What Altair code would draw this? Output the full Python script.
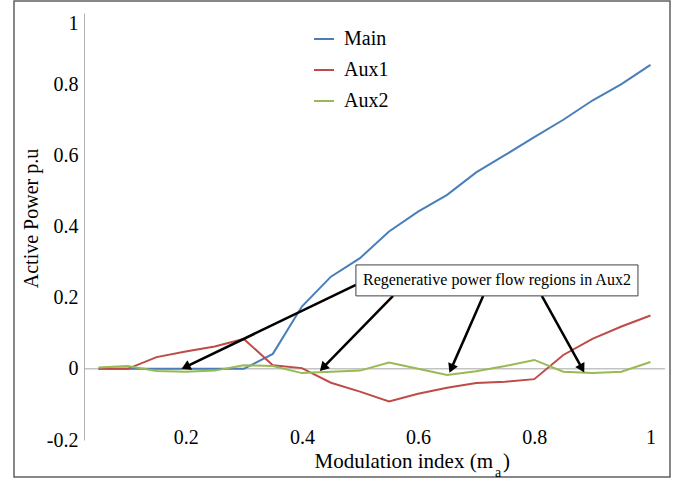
import math
import altair as alt
import pandas as pd

# ---------------- data ----------------
ma = [0.05, 0.10, 0.15, 0.20, 0.25, 0.30, 0.35, 0.40, 0.45, 0.50,
      0.55, 0.60, 0.65, 0.70, 0.75, 0.80, 0.85, 0.90, 0.95, 1.00]
main = [0.0, 0.0, 0.0, 0.0, 0.0, 0.0, 0.042, 0.175, 0.259, 0.311,
        0.386, 0.442, 0.489, 0.552, 0.601, 0.651, 0.700, 0.754, 0.800, 0.854]
aux1 = [0.0, 0.0, 0.033, 0.049, 0.063, 0.084, 0.010, 0.002, -0.039, -0.064,
        -0.092, -0.070, -0.053, -0.040, -0.036, -0.029, 0.039, 0.084, 0.119, 0.150]
aux2 = [0.004, 0.008, -0.006, -0.008, -0.005, 0.010, 0.008, -0.012, -0.008, -0.005,
        0.018, 0.0, -0.017, -0.007, 0.008, 0.025, -0.008, -0.012, -0.008, 0.019]

series_names = ["Main", "Aux1", "Aux2"]
series_colors = ["#4A7EBB", "#BE4B48", "#98B954"]

x_ticks = [0.2, 0.4, 0.6, 0.8, 1.0]
y_ticks = [-0.2, 0, 0.2, 0.4, 0.6, 0.8, 1]

annotation_text = "Regenerative power flow regions in Aux2"
# arrow start (at the box) and tip (on the Aux2 curve), in data units
arrow_start_x = [0.493, 0.557, 0.712, 0.813]
arrow_start_y = [0.236, 0.205, 0.205, 0.205]
arrow_tip_x = [0.193, 0.431, 0.654, 0.886]
arrow_tip_y = [0.0, -0.006, -0.011, -0.010]
box_x = [0.493, 0.9785]
box_y = [0.205, 0.292]

# ---------------- layout ----------------
W, H = 581, 427
X_DOMAIN = [0.025, 1.025]
Y_DOMAIN = [-0.2, 1.0]
SX = W / (X_DOMAIN[1] - X_DOMAIN[0])
SY = H / (Y_DOMAIN[1] - Y_DOMAIN[0])
FONT = "Liberation Serif, Times New Roman, Times, serif"

xs = alt.Scale(domain=X_DOMAIN, nice=False, zero=False)
ys = alt.Scale(domain=Y_DOMAIN, nice=False, zero=False)

x_axis = alt.Axis(values=x_ticks, labelExpr="'' + datum.value", domain=False,
                  ticks=False, tickSize=0, grid=False, labelPadding=-3,
                  labelBaseline="middle", title=None)
y_axis = alt.Axis(values=y_ticks, labelExpr="'' + datum.value", domain=True,
                  domainColor="#B3B3B3", domainWidth=1, ticks=False, tickSize=0,
                  grid=False, labelPadding=6,
                  labelBaseline={"condition": {"test": "datum.value == 1", "value": "top"},
                                 "value": "middle"},
                  title="Active Power p.u", titleX=-53, titleY=205, titleAngle=270,
                  titleAlign="center", titleBaseline="middle")


def X(f):
    return alt.X(f, scale=xs, axis=x_axis)


def Y(f):
    return alt.Y(f, scale=ys, axis=y_axis)


rows = []
for name, vals in zip(series_names, [main, aux1, aux2]):
    for x, v in zip(ma, vals):
        rows.append({"ma": x, "power": v, "series": name})
df = pd.DataFrame(rows)

# arrows
arr_rows = []
head_back = 4.5
for sx_, sy_, tx, ty in zip(arrow_start_x, arrow_start_y, arrow_tip_x, arrow_tip_y):
    dxp = (tx - sx_) * SX
    dyp = -(ty - sy_) * SY
    L = math.hypot(dxp, dyp)
    ux, uy = dxp / L, dyp / L
    ang = math.degrees(math.atan2(dxp, -dyp)) % 360
    hx = tx - ux * head_back / SX
    hy = ty + uy * head_back / SY
    arr_rows.append({"x": sx_, "y": sy_, "x2": hx, "y2": hy, "angle": ang})
arr_df = pd.DataFrame(arr_rows)

zero = alt.Chart(pd.DataFrame({"x": [X_DOMAIN[0]], "x2": [X_DOMAIN[1]], "y": [0]})).mark_rule(
    color="#A6A6A6", strokeWidth=1).encode(x=X("x:Q"), x2="x2:Q", y=Y("y:Q"))

lines = alt.Chart(df).mark_line(strokeWidth=2).encode(
    x=X("ma:Q"),
    y=Y("power:Q"),
    color=alt.Color("series:N", scale=alt.Scale(domain=series_names, range=series_colors),
                    legend=alt.Legend(orient="none", legendX=229, legendY=15, title=None,
                                      symbolType="stroke", symbolSize=400, symbolStrokeWidth=2,
                                      labelFont=FONT, labelFontSize=20, labelColor="black",
                                      rowPadding=10, padding=0, labelOffset=9)),
)

arrows = alt.Chart(arr_df).mark_rule(color="black", strokeWidth=2.5).encode(
    x=X("x:Q"), y=Y("y:Q"), x2="x2:Q", y2="y2:Q",
)
heads = alt.Chart(arr_df).mark_point(shape="triangle-up", filled=True, color="black",
                                     size=110, opacity=1).encode(
    x=X("x2:Q"), y=Y("y2:Q"),
    angle=alt.Angle("angle:Q", scale=None),
)

box = alt.Chart(pd.DataFrame({"x": [box_x[0]], "x2": [box_x[1]],
                              "y": [box_y[0]], "y2": [box_y[1]]})).mark_rect(
    fill="white", stroke="#404040", strokeWidth=1).encode(
    x=X("x:Q"), x2="x2:Q", y=Y("y:Q"), y2="y2:Q",
)
box_text = alt.Chart(pd.DataFrame({"x": [(box_x[0] + box_x[1]) / 2],
                                   "y": [(box_y[0] + box_y[1]) / 2],
                                   "t": [annotation_text]})).mark_text(
    font=FONT, fontSize=16, color="black", align="center", baseline="middle").encode(
    x=X("x:Q"), y=Y("y:Q"), text="t:N"
)

frame = alt.Chart(pd.DataFrame({"a": [0]})).mark_rect(
    fill=None, stroke="#606060", strokeWidth=1.5).encode(
    x=alt.value(-70), x2=alt.value(586), y=alt.value(-12), y2=alt.value(464)
)

xt_main = alt.Chart(pd.DataFrame({"t": ["Modulation index (m"]})).mark_text(
    font=FONT, fontSize=21, color="black", align="right", baseline="alphabetic").encode(
    x=alt.value(409), y=alt.value(455), text="t:N")
xt_sub = alt.Chart(pd.DataFrame({"t": ["a"]})).mark_text(
    font=FONT, fontSize=14, color="black", align="left", baseline="middle").encode(
    x=alt.value(411), y=alt.value(460), text="t:N")
xt_end = alt.Chart(pd.DataFrame({"t": [")"]})).mark_text(
    font=FONT, fontSize=21, color="black", align="left", baseline="alphabetic").encode(
    x=alt.value(419), y=alt.value(455), text="t:N")

chart = alt.layer(
    frame, zero, lines, arrows, heads, box, box_text, xt_main, xt_sub, xt_end
).properties(
    width=W, height=H,
    padding={"left": 84, "top": 13, "right": 21, "bottom": 40},
    autosize="none",
    background="white",
).configure_view(stroke=None).configure_axis(
    labelFont=FONT, labelFontSize=20, labelColor="black",
    titleFont=FONT, titleFontSize=20, titleFontWeight="normal", titleColor="black",
)

chart.save("out.html", embed_options={"renderer": "svg", "actions": False})
